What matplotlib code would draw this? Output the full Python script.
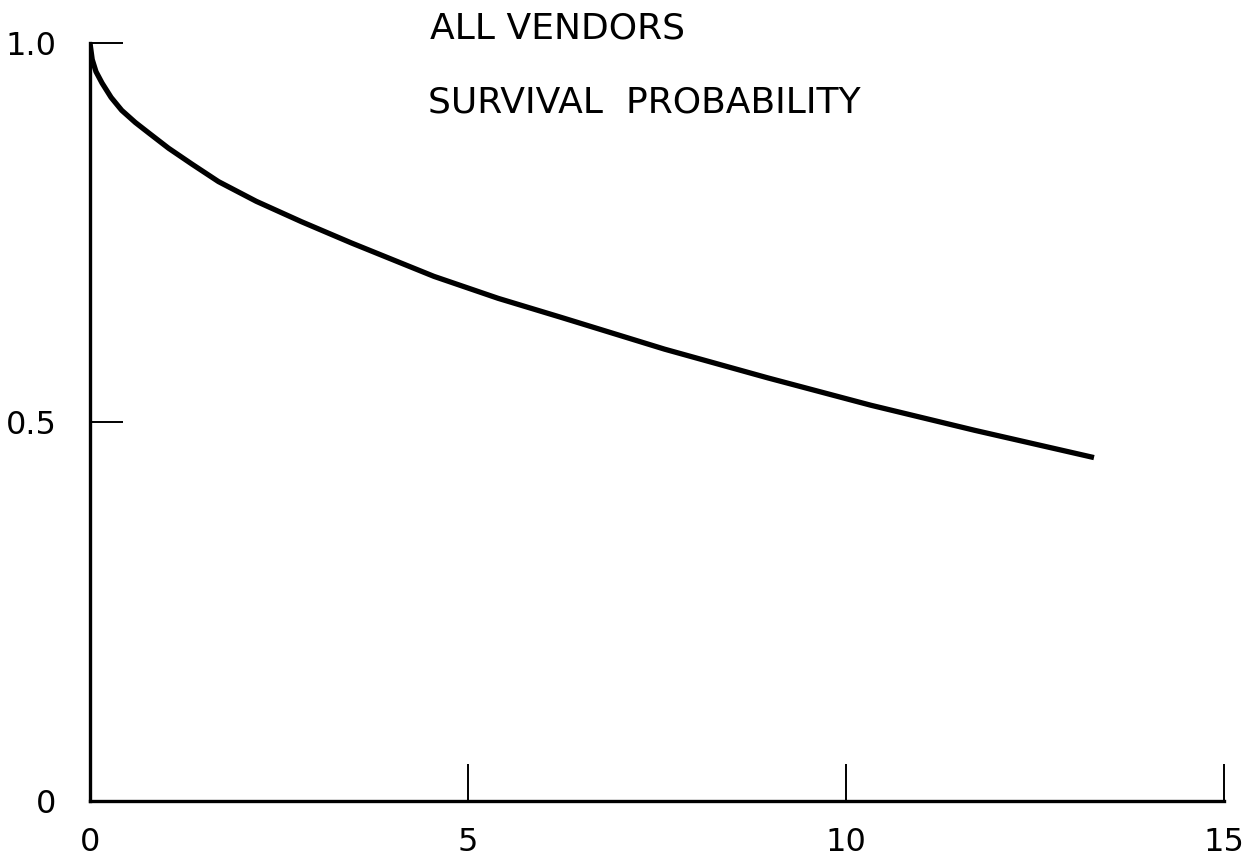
import matplotlib
matplotlib.use("Agg")
import matplotlib.pyplot as plt

# Survival probability curve, all vendors
years = [0, 0.03, 0.08, 0.16, 0.28, 0.42, 0.6, 0.78, 1.04, 1.35, 1.70, 2.2, 2.80,
         3.46, 4.55, 5.4, 6.23, 7.60, 8.97, 10.33, 11.70, 13.28]
survival = [1.0, 0.978, 0.962, 0.947, 0.928, 0.911, 0.895, 0.881, 0.861, 0.840,
            0.817, 0.791, 0.764, 0.736, 0.692, 0.663, 0.638, 0.596, 0.558, 0.522,
            0.489, 0.453]

x_ticks = [0, 5, 10, 15]
x_labels = ["0", "5", "10", "15"]
y_ticks = [0, 0.5, 1.0]
y_labels = ["0", "0.5", "1.0"]

title_lines = ["ALL VENDORS", "SURVIVAL  PROBABILITY"]

plt.rcParams["font.family"] = ["DejaVu Sans"]

fig = plt.figure(figsize=(12.58, 8.57), dpi=100)
ax = fig.add_axes([0.0715, 0.0653, 0.9015, 0.8847])

ax.plot(years, survival, color="black", lw=3.8,
        solid_capstyle="butt", solid_joinstyle="round")

ax.set_xlim(0, 15)
ax.set_ylim(0, 1.0)

for side in ("top", "right"):
    ax.spines[side].set_visible(False)
for side in ("left", "bottom"):
    ax.spines[side].set_linewidth(2.4)

ax.set_xticks(x_ticks)
ax.set_xticklabels(x_labels)
ax.set_yticks(y_ticks)
ax.set_yticklabels(y_labels)

ax.tick_params(axis="x", direction="in", length=27, width=1.4, pad=19, labelsize=23)
ax.tick_params(axis="y", direction="in", length=24, width=1.4, pad=24, labelsize=23)

fig.text(0.342, 0.967, title_lines[0], fontsize=26, va="center", ha="left")
fig.text(0.340, 0.880, title_lines[1], fontsize=26, va="center", ha="left")

fig.savefig("out.png", dpi=100, facecolor="white")
